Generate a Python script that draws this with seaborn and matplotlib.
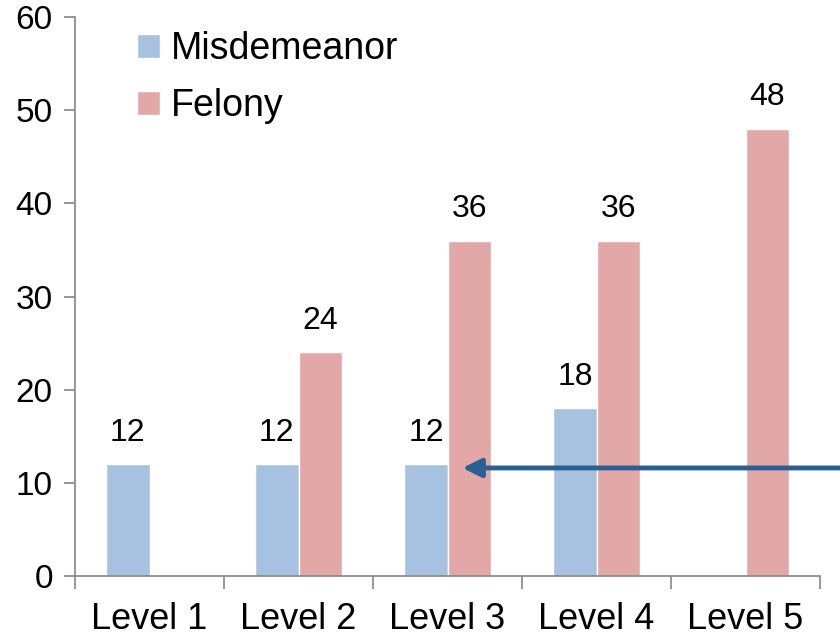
import matplotlib
matplotlib.use('Agg')
import matplotlib.pyplot as plt
import seaborn as sns
import numpy as np
import pandas as pd

levels = ['Level 1', 'Level 2', 'Level 3', 'Level 4', 'Level 5']
misdemeanor = [12, 12, 12, 18, np.nan]
felony = [np.nan, 24, 36, 36, 48]
arrow_value = 11.6

df = pd.DataFrame({
    'level': levels * 2,
    'value': misdemeanor + felony,
    'type': ['Misdemeanor'] * 5 + ['Felony'] * 5,
})

sns.set_style('white')
plt.rcParams['font.family'] = ['Liberation Sans', 'DejaVu Sans']
plt.rcParams['text.color'] = 'black'
plt.rcParams['xtick.color'] = 'black'
plt.rcParams['ytick.color'] = 'black'

fig = plt.figure(figsize=(8.4, 6.39), dpi=100)
ax = fig.add_axes([0.0893, 0.0986, 0.887, 0.8745])

sns.barplot(data=df, x='level', y='value', hue='type',
            palette=['#A7C1E0', '#E2A8A7'], width=0.58, saturation=1,
            ax=ax)

for cont in ax.containers:
    ax.bar_label(cont, fmt='%g', padding=12, fontsize=23, color='black')

ax.set_xlim(-0.5, 4.5)
ax.set_ylim(0, 60)
ax.set_yticks(range(0, 61, 10))
ax.set_xlabel('')
ax.set_ylabel('')

# category boundaries as tick marks, labels in the middle
ax.set_xticks(np.arange(-0.5, 5, 1))
ax.set_xticklabels([])
ax.set_xticks(range(5), minor=True)
ax.set_xticklabels(levels, minor=True)
ax.tick_params(axis='x', which='major', length=9, color='#868686', width=1.2, direction='out', bottom=True)
ax.tick_params(axis='x', which='minor', length=0, labelsize=26, pad=19, labelcolor='black')
ax.tick_params(axis='y', length=8, color='#868686', width=1.2, direction='out', left=True,
               labelsize=24, pad=8, labelcolor='black')

for s in ['top', 'right']:
    ax.spines[s].set_visible(False)
for s in ['left', 'bottom']:
    ax.spines[s].set_color('#868686')
    ax.spines[s].set_linewidth(1.2)

leg = ax.legend(loc='upper left', bbox_to_anchor=(0.038, 1.035), frameon=False,
                fontsize=27, handlelength=0.6, handleheight=0.6, handletextpad=0.3,
                labelspacing=0.55)
for t in leg.get_texts():
    t.set_color('black')

ax.annotate('', xy=(2.1, arrow_value), xytext=(4.65, arrow_value),
            annotation_clip=False,
            arrowprops=dict(arrowstyle='-|>', color='#2A5F93', lw=3.5,
                            mutation_scale=28, shrinkA=0, shrinkB=0))

fig.savefig('out.png', dpi=100)
